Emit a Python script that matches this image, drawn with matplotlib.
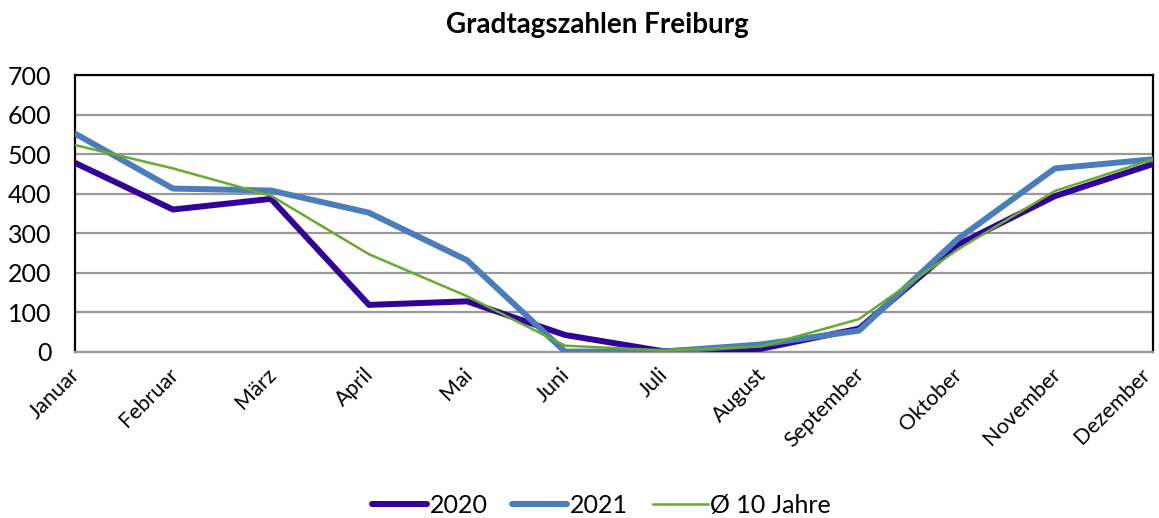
import matplotlib.pyplot as plt
import matplotlib.transforms as mtransforms

# ------------------------------
# Data (Gradtagszahlen Freiburg)
# ------------------------------
months = ["Januar", "Februar", "März", "April", "Mai", "Juni", "Juli",
          "August", "September", "Oktober", "November", "Dezember"]
gtz_2020 = [478, 360, 387, 119, 128, 43, 2, 8, 59, 270, 394, 475]
gtz_2021 = [552, 413, 408, 352, 232, 1, 1, 19, 54, 284, 464, 487]
gtz_10y = [523, 464, 395, 247, 141, 16, 4, 14, 83, 258, 407, 487]
y_ticks = [0, 100, 200, 300, 400, 500, 600, 700]

plt.rcParams["font.family"] = ["Lato", "DejaVu Sans"]

fig = plt.figure(figsize=(11.59, 5.18), dpi=100)
ax = fig.add_axes([0.0647, 0.3205, 0.9301, 0.5347])

x = list(range(len(months)))
ax.plot(x, gtz_2020, color="#330099", lw=4.3, label="2020", solid_capstyle="round", zorder=3)
ax.plot(x, gtz_2021, color="#4A7EBB", lw=4.3, label="2021", solid_capstyle="round", zorder=4)
ax.plot(x, gtz_10y, color="#66AC2A", lw=1.8, label="Ø 10 Jahre", zorder=5)

ax.set_xlim(0, 11)
ax.set_ylim(0, 700)
ax.set_yticks(y_ticks)
ax.set_yticklabels([str(v) for v in y_ticks], fontsize=18)
ax.set_xticks(x)
ax.set_xticklabels(months, rotation=45, ha="right", va="center",
                   rotation_mode="anchor", fontsize=15.5)
ax.tick_params(axis="both", length=0)
ax.tick_params(axis="y", pad=17)
ax.tick_params(axis="x", pad=14)

# nudge month labels a bit right, last one pulled in so it stays on the canvas
labels = ax.get_xticklabels()
for i, lbl in enumerate(labels):
    dx = -6 if i == len(labels) - 1 else 2
    shift = mtransforms.ScaledTranslation(dx / 100, 0, fig.dpi_scale_trans)
    lbl.set_transform(lbl.get_transform() + shift)

ax.yaxis.grid(True, color="#999999", lw=1.6)
ax.set_axisbelow(True)
for side in ["left", "top", "right"]:
    ax.spines[side].set_color("black")
    ax.spines[side].set_linewidth(1.6)
ax.spines["bottom"].set_color("#999999")
ax.spines["bottom"].set_linewidth(1.6)

fig.text(0.515, 0.952, "Gradtagszahlen Freiburg", ha="center", va="center",
         fontsize=20, fontweight="bold")

fig.legend(loc="center", bbox_to_anchor=(0.519, 0.024), ncol=3, frameon=False,
           fontsize=18, handlelength=2.2, handletextpad=0.1, columnspacing=1.0)

fig.savefig("out.png", dpi=100)
